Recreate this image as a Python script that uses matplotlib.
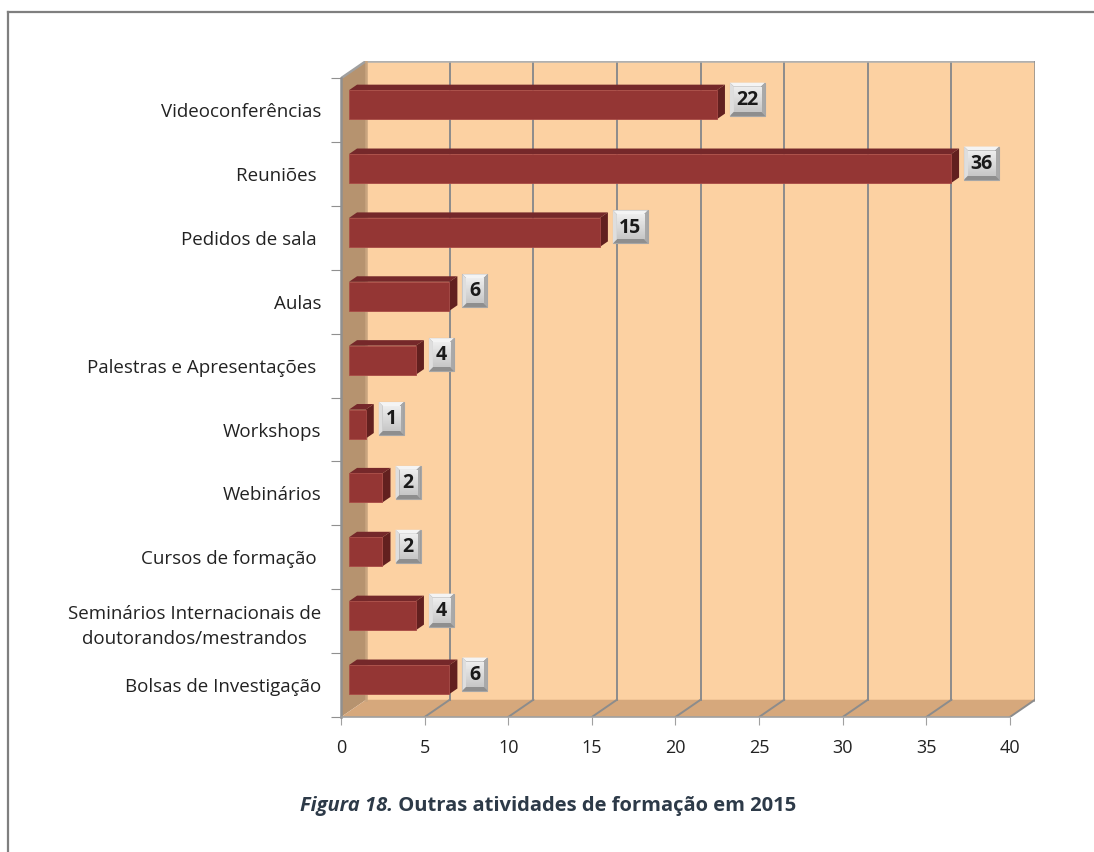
import numpy as np
import matplotlib.pyplot as plt
from matplotlib.patches import Polygon, Rectangle
from matplotlib.lines import Line2D

plt.rcParams['font.family'] = ['Open Sans', 'DejaVu Sans']

categorias = ['Videoconferências', 'Reuniões ', 'Pedidos de sala ', 'Aulas',
              'Palestras e Apresentações ', 'Workshops', 'Webinários',
              'Cursos de formação ', 'Seminários Internacionais de\ndoutorandos/mestrandos',
              'Bolsas de Investigação']
valores = [22, 36, 15, 6, 4, 1, 2, 2, 4, 6]
xticks = [0, 5, 10, 15, 20, 25, 30, 35, 40]
titulo_a = 'Figura 18.'
titulo_b = ' Outras atividades de formação em 2015'

W, H = 1094, 852
fig = plt.figure(figsize=(W / 100, H / 100), dpi=100)

# frame of the figure
fig.add_artist(Line2D([8 / W, 8 / W], [0, 1 - 12 / H], color='#7f7f7f', lw=1.6))
fig.add_artist(Line2D([8 / W, 1], [1 - 12 / H, 1 - 12 / H], color='#7f7f7f', lw=1.6))

# pseudo 3D: depth offset in data units
XMAX = 40
DX = 1.5        # depth shift along value axis
DY = -0.27      # depth shift along category axis (upwards)
n = len(categorias)
ytop, ybot = -0.5, n - 0.5

ax = fig.add_axes([341 / W, 1 - 717 / H, 694 / W, 656 / H])


def P(x, y, d):
    return (x + d * DX, y + d * DY)


def poly(pts, **kw):
    ax.add_patch(Polygon([P(*p) for p in pts], closed=True, **kw))


# walls and floor
poly([(0, ytop, 1), (XMAX, ytop, 1), (XMAX, ybot, 1), (0, ybot, 1)],
     facecolor='#fcd1a2', edgecolor='none', zorder=1)
poly([(0, ytop, 0), (0, ytop, 1), (0, ybot, 1), (0, ybot, 0)],
     facecolor='#b6936f', edgecolor='none', zorder=1)
poly([(0, ybot, 0), (XMAX, ybot, 0), (XMAX, ybot, 1), (0, ybot, 1)],
     facecolor='#d6a87c', edgecolor='none', zorder=1)

grid_kw = dict(color='#8c8c8c', lw=1.4, zorder=2)
for t in xticks[1:-1]:
    x0, y0 = P(t, ytop, 1)
    x1, y1 = P(t, ybot, 1)
    ax.plot([x0, x1], [y0, y1], **grid_kw)
for t in xticks[1:]:
    x0, y0 = P(t, ybot, 0)
    x1, y1 = P(t, ybot, 1)
    ax.plot([x0, x1], [y0, y1], **grid_kw)
# edges
for a, b, c in [((0, ytop, 0), (0, ytop, 1), '#a0a0a0'),
                ((0, ytop, 1), (XMAX, ytop, 1), '#b0b0b0'),
                ((XMAX, ytop, 1), (XMAX, ybot, 1), '#8c8c8c'),
                ((0, ybot, 1), (0, ytop, 1), '#c9a57f')]:
    pa, pb = P(*a), P(*b)
    ax.plot([pa[0], pb[0]], [pa[1], pb[1]], color=c, lw=1.8, zorder=2)

# bars
d0, d1 = 0.32, 0.64
hh = 0.227
for i, v in enumerate(valores):
    yt, yb = i - hh, i + hh
    poly([(0, yt, d0), (v, yt, d0), (v, yt, d1), (0, yt, d1)],
         facecolor='#75282a', edgecolor='none', zorder=3)
    poly([(v, yt, d0), (v, yb, d0), (v, yb, d1), (v, yt, d1)],
         facecolor='#62201f', edgecolor='none', zorder=3)
    poly([(0, yt, d0), (v, yt, d0), (v, yb, d0), (0, yb, d0)],
         facecolor='#943634', edgecolor='#a84a46', lw=0.6, zorder=4)

    # value label box (bevelled)
    txt = str(v)
    bw = (35 if len(txt) > 1 else 25) / 16.72
    bh = 33 / 63.9
    cx0, cy = P(v, i, d1)
    bx = cx0 + 0.3
    by = cy - bh / 2
    ex, ey = 4 / 16.72, 4 / 63.9
    ax.add_patch(Rectangle((bx, by), bw, bh, facecolor='#8e8e8e',
                           edgecolor='#a6a6a6', lw=0.8, zorder=5))
    ax.add_patch(Polygon([(bx, by), (bx + bw, by), (bx + bw - ex, by + ey), (bx + ex, by + ey)],
                         facecolor='#f4f4f4', edgecolor='none', zorder=5))
    ax.add_patch(Polygon([(bx, by), (bx + ex, by + ey), (bx + ex, by + bh - ey), (bx, by + bh)],
                         facecolor='#dedede', edgecolor='none', zorder=5))
    ax.add_patch(Polygon([(bx + bw, by), (bx + bw, by + bh), (bx + bw - ex, by + bh - ey), (bx + bw - ex, by + ey)],
                         facecolor='#a9a9a9', edgecolor='none', zorder=5))
    grad = np.linspace(0.93, 0.78, 32).reshape(-1, 1)
    ax.imshow(grad, cmap='gray', vmin=0, vmax=1, aspect='auto', zorder=6,
              extent=(bx + ex, bx + bw - ex, by + bh - ey, by + ey), interpolation='bilinear')
    ax.text(bx + bw / 2, cy + 0.01, txt, ha='center', va='center', fontsize=14,
            fontweight='bold', color='#1a1a1a', zorder=7)

ax.set_xlim(0, XMAX + DX)
ax.set_ylim(ybot, ytop + DY)

# axes: ticks on front plane
for s in ['top', 'right']:
    ax.spines[s].set_visible(False)
ax.spines['bottom'].set_bounds(0, XMAX)
ax.spines['left'].set_bounds(ytop, ybot)
ax.spines['bottom'].set_color('#a0a0a0')
ax.spines['left'].set_color('#909090')
ax.spines['left'].set_linewidth(1.8)
ax.spines['bottom'].set_linewidth(1.2)
ax.set_xticks(xticks)
ax.set_xticklabels([str(t) for t in xticks], fontsize=13, color='#222222')
ax.set_yticks(np.arange(ytop, ybot + 0.01, 1.0))
ax.set_yticklabels([])
ax.set_yticks(np.arange(n), minor=True)
ax.set_yticklabels(categorias, minor=True, fontsize=13.5, color='#222222',
                   multialignment='center', linespacing=1.5)
ax.tick_params(axis='x', length=6, color='#a0a0a0', pad=10)
ax.tick_params(axis='y', which='major', length=7, color='#909090')
ax.tick_params(axis='y', which='minor', length=0, pad=14)
ax.set_facecolor('none')

# caption
t1 = fig.text(300 / W, 1 - 806 / H, titulo_a, fontsize=14.5, fontweight='bold',
              fontstyle='italic', color='#2d3a48', ha='left', va='center')
fig.canvas.draw()
ax.annotate(titulo_b, xy=(1, 0.5), xycoords=t1, fontsize=14.5, fontweight='bold',
            color='#2d3a48', ha='left', va='center', annotation_clip=False)

fig.savefig('out.png', dpi=100)
